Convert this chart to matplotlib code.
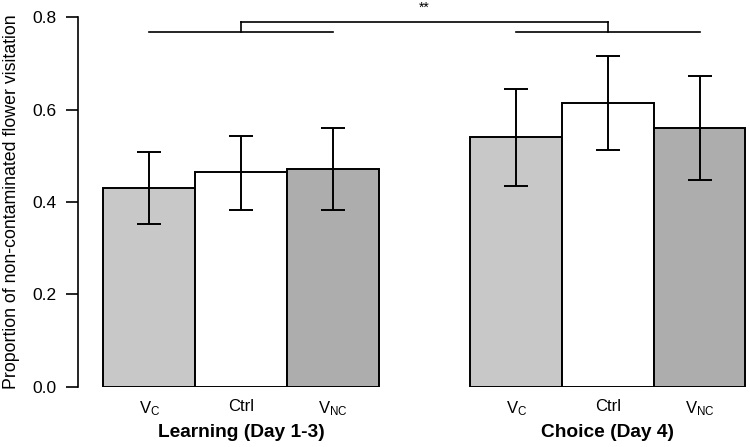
import matplotlib
matplotlib.use("Agg")
import matplotlib.pyplot as plt
import matplotlib.transforms as mtransforms

plt.rcParams['font.family'] = ['Liberation Sans', 'DejaVu Sans']
plt.rcParams['mathtext.default'] = 'regular'

# ---- data ----
groups = ["Learning (Day 1-3)", "Choice (Day 4)"]
treatments = [r"V$_{C}$", "Ctrl", r"V$_{NC}$"]
treatment_colors = ["#c8c8c8", "#ffffff", "#adadad"]

learning_means = [0.431, 0.464, 0.471]
learning_lower = [0.352, 0.383, 0.383]
learning_upper = [0.508, 0.543, 0.561]

choice_means = [0.541, 0.615, 0.560]
choice_lower = [0.435, 0.513, 0.447]
choice_upper = [0.644, 0.717, 0.672]

yticks = [0.0, 0.2, 0.4, 0.6, 0.8]
ylabel = "Proportion of non-contaminated flower visitation"
bracket_low = 0.769
bracket_high = 0.790
sig_label = "**"

# ---- figure ----
W, H = 750, 447
fig = plt.figure(figsize=(W / 100, H / 100), dpi=100)
ax_left = 77.7 / W
ax_bottom = (H - 386.7) / H
ax_height = (386.7 - 17.3) / H
ax = fig.add_axes([ax_left, ax_bottom, 1 - ax_left, ax_height])

means_all = [learning_means, choice_means]
lower_all = [learning_lower, choice_lower]
upper_all = [learning_upper, choice_upper]

positions = []
for g in range(len(groups)):
    pos = [g * 4 + i for i in range(len(treatments))]
    positions.append(pos)
    ax.bar(pos, means_all[g], width=1.0, color=treatment_colors,
           edgecolor='black', linewidth=1.4, zorder=2)
    m = means_all[g]
    lo = [m[i] - lower_all[g][i] for i in range(len(m))]
    hi = [upper_all[g][i] - m[i] for i in range(len(m))]
    ax.errorbar(pos, m, yerr=[lo, hi], fmt='none', ecolor='black',
                elinewidth=1.4, capsize=8.3, capthick=1.4, zorder=3)

ax.set_xlim(-0.78, 6.55)
ax.set_ylim(0, 0.8)

all_pos = positions[0] + positions[1]
ax.set_xticks(all_pos)
ax.set_xticklabels(treatments * 2, fontsize=12)
ax.tick_params(axis='x', length=0, pad=9)
ax.set_yticks(yticks)
ax.set_yticklabels([f"{v:.1f}" for v in yticks], fontsize=12.5)
ax.tick_params(axis='y', length=8.6, width=1.2, pad=7)

for s in ['top', 'right', 'bottom']:
    ax.spines[s].set_visible(False)
ax.spines['left'].set_linewidth(1.2)
ax.spines['left'].set_bounds(0, 0.8)

ax.set_ylabel(ylabel, fontsize=12.8)
ax.yaxis.set_label_coords(-0.086, 0.5)

trans = mtransforms.blended_transform_factory(ax.transData, ax.transAxes)
for g in range(len(groups)):
    ax.text(positions[g][1], -0.123, groups[g], transform=trans,
            ha='center', va='center', fontsize=13.8, fontweight='bold')

# significance brackets
for g in range(len(groups)):
    p = positions[g]
    ax.plot([p[0], p[2]], [bracket_low, bracket_low], color='black',
            lw=1.2, clip_on=False)
    ax.plot([p[1], p[1]], [bracket_low, bracket_high], color='black',
            lw=1.2, clip_on=False)
ax.plot([positions[0][1], positions[1][1]], [bracket_high, bracket_high],
        color='black', lw=1.2, clip_on=False)
ax.text((positions[0][1] + positions[1][1]) / 2, bracket_high + 0.016,
        sig_label, ha='center', va='bottom', fontsize=10, clip_on=False)

fig.savefig("out.png", dpi=100)
